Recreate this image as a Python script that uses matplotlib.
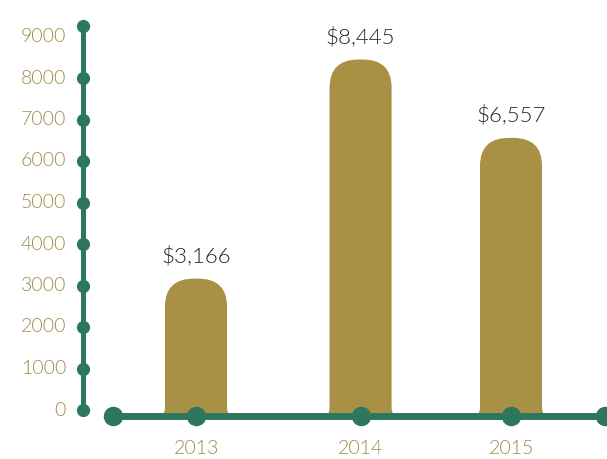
import matplotlib
matplotlib.use("Agg")
import matplotlib.pyplot as plt
from matplotlib.path import Path
from matplotlib.patches import PathPatch

years = ["2013", "2014", "2015"]
costs = [3166, 8445, 6557]
cost_labels = ["$3,166", "$8,445", "$6,557"]
y_ticks = [0, 1000, 2000, 3000, 4000, 5000, 6000, 7000, 8000, 9000]

GOLD = "#A89045"
GOLD_TXT = "#A08942"
GREEN = "#2D7760"
DARK = "#262626"

W, H = 607, 459
fig = plt.figure(figsize=(W / 100, H / 100), dpi=100)
ax = fig.add_axes([0, 0, 1, 1])
ax.set_axis_off()

# pixel -> data scale: 1000 units every 41.5 px
sx = 1 / 157.5
sy = 1000 / 41.5
x0_px, y0_px = 196, 410
ax.set_xlim(-x0_px * sx, (W - x0_px) * sx)
ax.set_ylim(-(H - y0_px) * sy, y0_px * sy)

base = -6 * sy  # the horizontal axis sits a little under zero
xs = [0, 1.045, 2.0]  # year slots along the axis


def bar_path(xc, top, bottom):
    hw = 31 * sx
    rx, ry = 29 * sx, 28 * sy
    fx, fy = 6 * sx, 9 * sy
    verts = [
        (xc - hw - fx, bottom),
        (xc - hw, bottom), (xc - hw, bottom + fy),
        (xc - hw, top - ry),
        (xc - hw, top), (xc - hw + rx, top),
        (xc + hw - rx, top),
        (xc + hw, top), (xc + hw, top - ry),
        (xc + hw, bottom + fy),
        (xc + hw, bottom), (xc + hw + fx, bottom),
        (xc - hw - fx, bottom),
    ]
    codes = [Path.MOVETO,
             Path.CURVE3, Path.CURVE3,
             Path.LINETO,
             Path.CURVE3, Path.CURVE3,
             Path.LINETO,
             Path.CURVE3, Path.CURVE3,
             Path.LINETO,
             Path.CURVE3, Path.CURVE3,
             Path.CLOSEPOLY]
    return Path(verts, codes)


for x, v, lab in zip(xs, costs, cost_labels):
    ax.add_patch(PathPatch(bar_path(x, v, base), facecolor=GOLD,
                           edgecolor="none", zorder=2))
    ax.annotate(lab, (x, v), xytext=(0, 9), textcoords="offset points",
                ha="center", va="bottom", fontsize=16, color=DARK,
                family="Lato", weight=300, zorder=5)

# vertical axis with a dot on every tick
y_axis_x = (83 - x0_px) * sx
y_top = (y0_px - 26) * sy
ax.plot([y_axis_x, y_axis_x], [0, y_top], color=GREEN, lw=3.6,
        solid_capstyle="round", zorder=3)
ax.plot([y_axis_x] * 9, y_ticks[:-1], "o", color=GREEN, ms=8.5, zorder=3)
ax.plot([y_axis_x], [y_top], "o", color=GREEN, ms=8.5, zorder=3)
for t in y_ticks:
    ax.text((66 - x0_px) * sx, t, str(t), ha="right", va="center",
            fontsize=14, color=GOLD_TXT, family="Lato", weight=300)

# horizontal axis with dots at each year and at both ends
x_start = (113 - x0_px) * sx
x_end = (605 - x0_px) * sx
ax.plot([x_start, (W + 10 - x0_px) * sx], [base, base], color=GREEN, lw=5,
        zorder=3)
ax.plot([x_start] + xs + [x_end], [base] * (len(xs) + 2), "o",
        color=GREEN, ms=13, zorder=4)
for x, yr in zip(xs, years):
    ax.text(x, -(448 - y0_px) * sy, yr, ha="center", va="center",
            fontsize=14, color=GOLD_TXT, family="Lato", weight=300)

fig.savefig("out.png", dpi=100)
